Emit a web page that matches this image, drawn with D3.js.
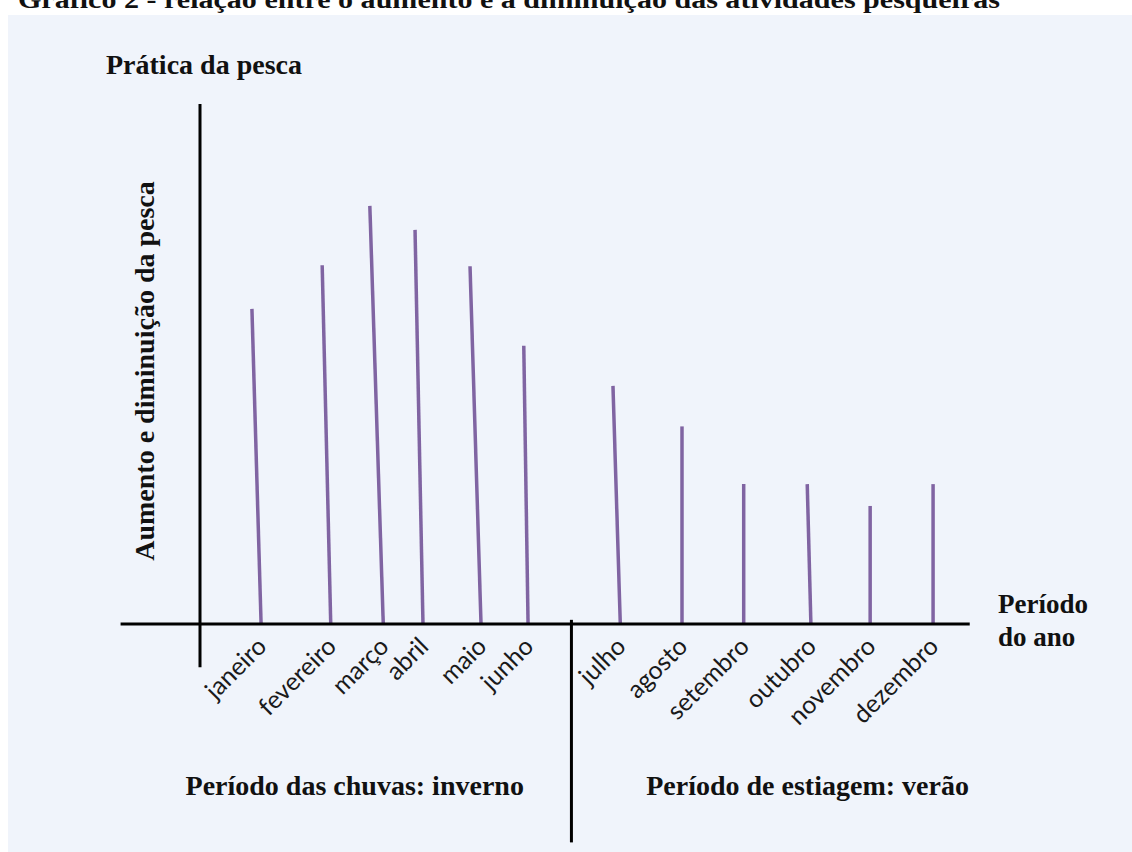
<!DOCTYPE html>
<html>
<head>
<meta charset="utf-8">
<script src="https://cdn.jsdelivr.net/npm/d3@7"></script>
<style>
  html, body { margin: 0; padding: 0; background: #ffffff; }
  svg { display: block; }
</style>
</head>
<body>
<svg id="chart" width="1132" height="852"></svg>
<script>
// ---- Data ----
const title = "Gráfico 2 - relação entre o aumento e a diminuição das atividades pesqueiras";
const months = ["janeiro", "fevereiro", "março", "abril", "maio", "junho",
                "julho", "agosto", "setembro", "outubro", "novembro", "dezembro"];
// relative fishing activity (0-100 of the drawn axis)
const fishing = [60.6, 69.0, 80.4, 75.8, 68.8, 53.5, 45.8, 38.0, 26.9, 26.9, 22.7, 26.9];
// hand-drawn month positions along the time axis (month units), base and top of each stroke
const monthBase = [1.00, 2.14, 3.00, 3.65, 4.60, 5.37, 6.88, 7.89, 8.90, 10.00, 10.97, 12.00];
const monthTop  = [0.85, 2.00, 2.78, 3.52, 4.42, 5.30, 6.76, 7.89, 8.90, 9.94, 10.97, 12.00];
const seasonSplit = 6.08;
const yAxisTitle = "Aumento e diminuição da pesca";
const topTitle = "Prática da pesca";
const xAxisTitle = ["Período", "do ano"];
const seasons = ["Período das chuvas: inverno", "Período de estiagem: verão"];

// ---- Layout ----
const svg = d3.select("#chart");
const W = 1132, H = 852;
const x = d3.scaleLinear().domain([0, 13]).range([200, 200 + 13 * 61.09]);
const y = d3.scaleLinear().domain([0, 100]).range([624, 104]);

const serif = "'Liberation Serif', 'Times New Roman', serif";
const sans = "Lato, 'Open Sans', sans-serif";
const purple = "#8064a2";

// panel background
svg.append("rect").attr("x", 8).attr("y", 15).attr("width", W - 8).attr("height", H - 15)
  .attr("fill", "#f0f4fb");

// cut-off title (as in the reference)
svg.append("text").attr("x", 18).attr("y", 8)
  .attr("font-family", serif).attr("font-weight", "bold").attr("font-size", 26)
  .attr("textLength", 982).attr("lengthAdjust", "spacingAndGlyphs")
  .attr("fill", "#111").text(title);

// purple strokes
svg.append("g").selectAll("line").data(months).join("line")
  .attr("x1", (d, i) => x(monthBase[i])).attr("y1", y(0))
  .attr("x2", (d, i) => x(monthTop[i])).attr("y2", (d, i) => y(fishing[i]))
  .attr("stroke", purple).attr("stroke-width", 3.5);

// axes
svg.append("line").attr("x1", x(-1.3)).attr("x2", x(12.6)).attr("y1", y(0)).attr("y2", y(0))
  .attr("stroke", "#000").attr("stroke-width", 3);
svg.append("line").attr("x1", x(0)).attr("x2", x(0)).attr("y1", y(100)).attr("y2", y(-8.3))
  .attr("stroke", "#000").attr("stroke-width", 3);
svg.append("line").attr("x1", x(seasonSplit)).attr("x2", x(seasonSplit))
  .attr("y1", y(0.8)).attr("y2", y(-42))
  .attr("stroke", "#000").attr("stroke-width", 3);

// month labels
svg.append("g").selectAll("text").data(months).join("text")
  .attr("transform", (d, i) => `translate(${x(monthBase[i]) + 7},${y(0) + 24}) rotate(-45)`)
  .attr("text-anchor", "end")
  .attr("font-family", sans).attr("font-size", 25).attr("fill", "#1a1a1a")
  .text(d => d);

// axis titles
svg.append("text").attr("x", 106).attr("y", 74)
  .attr("font-family", serif).attr("font-weight", "bold").attr("font-size", 28)
  .attr("fill", "#111").text(topTitle);

svg.append("text")
  .attr("transform", `translate(154,${(180 + 562) / 2}) rotate(-90)`)
  .attr("text-anchor", "middle")
  .attr("font-family", serif).attr("font-weight", "bold").attr("font-size", 28)
  .attr("fill", "#111").text(yAxisTitle);

svg.append("g").selectAll("text").data(xAxisTitle).join("text")
  .attr("x", 998).attr("y", (d, i) => 613 + i * 33)
  .attr("font-family", serif).attr("font-weight", "bold").attr("font-size", 27)
  .attr("fill", "#111").text(d => d);

// season labels
svg.append("g").selectAll("text").data(seasons).join("text")
  .attr("x", (d, i) => i === 0 ? (x(0) + x(seasonSplit)) / 2 - 31 : (x(seasonSplit) + x(12.6)) / 2 + 37)
  .attr("y", 795)
  .attr("text-anchor", "middle")
  .attr("font-family", serif).attr("font-weight", "bold").attr("font-size", 28)
  .attr("fill", "#111").text(d => d);
</script>
</body>
</html>
